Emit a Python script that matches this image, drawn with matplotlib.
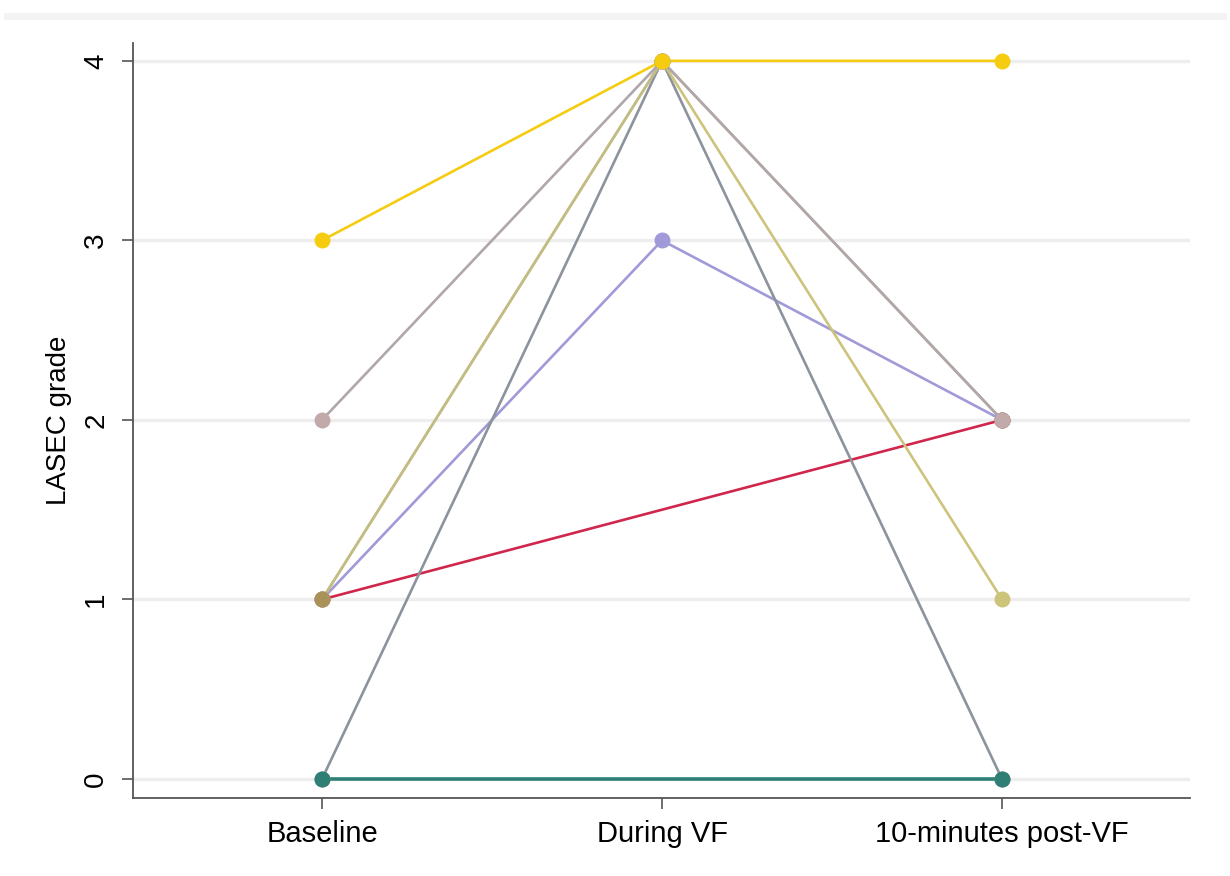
import numpy as np
import matplotlib
matplotlib.use("Agg")
import matplotlib.pyplot as plt

plt.rcParams["font.family"] = ["Liberation Sans", "DejaVu Sans"]

# LASEC grade per subject at each time point (nan = not recorded)
timepoints = ["Baseline", "During VF", "10-minutes post-VF"]
subject_grades = {
    "red":    [1, np.nan, 2],
    "purple": [1, 3, 2],
    "grey":   [0, 4, 0],
    "khaki":  [1, 4, 1],
    "olive":  [1, 4, 2],
    "pink":   [2, 4, 2],
    "teal":   [0, np.nan, 0],
    "yellow": [3, 4, 4],
}
subject_colors = {
    "red":    "#d0264c",
    "purple": "#a09ad8",
    "grey":   "#8c939c",
    "khaki":  "#cdc47c",
    "olive":  "#a8925a",
    "pink":   "#c2aaaa",
    "teal":   "#2f7f74",
    "yellow": "#f5cc10",
}
line_colors = dict(subject_colors, olive="#c2bd86", pink="#b0a6ac")
y_ticks = [0, 1, 2, 3, 4]

fig = plt.figure(figsize=(12.3, 8.76), dpi=100)
ax = fig.add_axes([0.1081, 0.089, 0.8594, 0.862])

x = np.arange(len(timepoints))
for name, grades in subject_grades.items():
    g = np.array(grades, dtype=float)
    ok = ~np.isnan(g)
    lw = 2.6 if name == "teal" else 1.9
    ax.plot(x[ok], g[ok], color=line_colors[name], lw=lw, zorder=3)
    ax.plot(x[ok], g[ok], ls="none", marker="o", markersize=11.5,
            markeredgewidth=0, color=subject_colors[name], zorder=4)

ax.set_xlim(-0.556, 2.553)
ax.set_ylim(-0.106, 4.1)
ax.set_xticks(x)
ax.set_xticklabels(timepoints, fontsize=21)
ax.set_yticks(y_ticks)
ax.set_yticklabels([str(t) for t in y_ticks], fontsize=20, rotation=90, va="center")
ax.set_ylabel("LASEC grade", fontsize=20)
ax.yaxis.set_label_coords(-0.058, 0.5)

ax.grid(axis="y", color="#eeeeee", lw=2.5, zorder=0)
ax.set_axisbelow(True)
for side in ("top", "right"):
    ax.spines[side].set_visible(False)
for side in ("left", "bottom"):
    ax.spines[side].set_color("#555555")
    ax.spines[side].set_linewidth(1.3)
ax.tick_params(length=8, width=1.2, color="#555555", pad=8)
ax.tick_params(axis="y", pad=9)

# faint band along the top of the graph region
fig.add_artist(plt.Line2D([0.006, 0.994], [0.982, 0.982], color="#f3f3f3", lw=5))

fig.savefig("out.png", dpi=100, facecolor="white")
